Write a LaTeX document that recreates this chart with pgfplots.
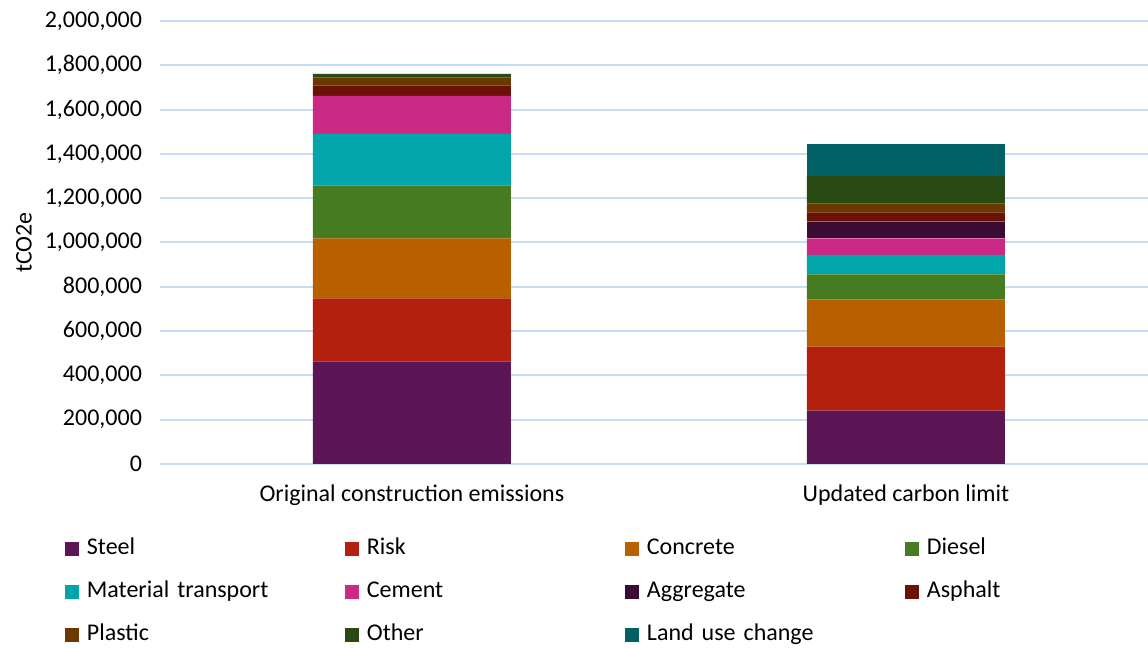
\documentclass[border=0pt]{standalone}
\usepackage{pgfplots}
\pgfplotsset{compat=1.18}
\usepackage{fontspec}
\setmainfont{Carlito}
\definecolor{cSteel}{HTML}{5C1655}
\definecolor{cRisk}{HTML}{B3200E}
\definecolor{cConcrete}{HTML}{B85F00}
\definecolor{cDiesel}{HTML}{467B22}
\definecolor{cMT}{HTML}{00A6AA}
\definecolor{cCement}{HTML}{CC2985}
\definecolor{cAggregate}{HTML}{3A0C35}
\definecolor{cAsphalt}{HTML}{6B1106}
\definecolor{cPlastic}{HTML}{6B3800}
\definecolor{cOther}{HTML}{2A4A14}
\definecolor{cLUC}{HTML}{006064}
\definecolor{cGrid}{HTML}{C6DDF6}
\begin{document}
\begin{tikzpicture}[font=\fontsize{18pt}{21pt}\selectfont]
\path[use as bounding box] (0,0) rectangle (861pt,486pt);
\begin{axis}[
  at={(120pt,138pt)}, anchor=south west,
  width=741pt, height=332.25pt, scale only axis,
  ybar stacked, bar width=148.5pt,
  xmin=-0.51, xmax=1.49,
  ymin=0, ymax=2000000,
  xtick={0,1},
  xticklabels={Original construction emissions, Updated carbon limit},
  ytick={0,200000,...,2000000},
  scaled y ticks=false,
  /pgf/number format/fixed,
  /pgf/number format/1000 sep={,},
  /pgf/number format/assume math mode=true,
  yticklabel style={xshift=-10pt},
  xticklabel style={anchor=base, yshift=-28.5pt},
  ymajorgrids, major grid style={color=cGrid, line width=1.5pt},
  axis line style={draw=none},
  major tick length=0pt,
  ylabel={tCO2e},
  ylabel style={at={(axis description cs:-0.1377,0.5)}, anchor=center},
  legend columns=4,
  legend image code/.code={\fill[#1] (0pt,-5.25pt) rectangle (10.5pt,5.25pt);},
  legend style={draw=none, inner sep=0pt, outer sep=0pt, anchor=north west,
    at={(axis description cs:-0.0962,-0.166)},
    row sep=15.25pt, column sep=0pt,
    nodes={text width=187.5pt, inner xsep=6pt, inner ysep=0pt, text height=13pt, text depth=4pt, align=left}},
]
\addplot[fill=cSteel, draw=none] coordinates {(0,462000) (1,240600)};
\addlegendentry{Steel}
\addplot[fill=cRisk, draw=none] coordinates {(0,286100) (1,289000)};
\addlegendentry{Risk}
\addplot[fill=cConcrete, draw=none] coordinates {(0,270900) (1,214000)};
\addlegendentry{Concrete}
\addplot[fill=cDiesel, draw=none] coordinates {(0,237500) (1,112800)};
\addlegendentry{Diesel}
\addplot[fill=cMT, draw=none] coordinates {(0,233400) (1,87200)};
\addlegendentry{Material transport}
\addplot[fill=cCement, draw=none] coordinates {(0,171500) (1,75400)};
\addlegendentry{Cement}
\addplot[fill=cAggregate, draw=none] coordinates {(0,0) (1,75000)};
\addlegendentry{Aggregate}
\addplot[fill=cAsphalt, draw=none] coordinates {(0,46600) (1,42400)};
\addlegendentry{Asphalt}
\addplot[fill=cPlastic, draw=none] coordinates {(0,37800) (1,38900)};
\addlegendentry{Plastic}
\addplot[fill=cOther, draw=none] coordinates {(0,14900) (1,125000)};
\addlegendentry{Other}
\addplot[fill=cLUC, draw=none] coordinates {(0,0) (1,144500)};
\addlegendentry{Land use change}
\end{axis}
\end{tikzpicture}
\end{document}
